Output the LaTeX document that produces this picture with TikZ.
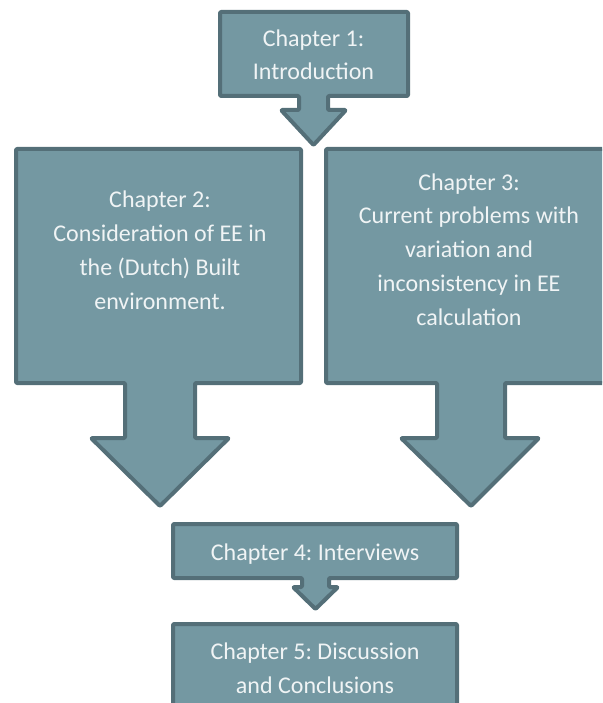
\documentclass[tikz,border=0pt]{standalone}
\usepackage{fontspec}
\setmainfont{Carlito}
\frenchspacing
\definecolor{boxfill}{RGB}{116,152,162}
\definecolor{boxline}{RGB}{84,111,120}
\definecolor{boxtext}{RGB}{240,244,245}
\begin{document}
\begin{tikzpicture}[x=1pt,y=-1pt,
  callout/.style={draw=boxline,fill=boxfill,line width=4pt,line join=round,rounded corners=1pt},
  label/.style={text=boxtext,align=center,anchor=base,inner sep=0pt,
    font=\fontsize{24}{33.7}\selectfont\frenchspacing}]
\useasboundingbox (0,0) rectangle (602,703);
\clip (0,0) rectangle (602,703);
% Chapter 1
\path[callout] (220,12) -- (408,12) -- (408,96) -- (328,96) -- (328,110) -- (346,110)
  -- (313.5,145) -- (281,110) -- (299,110) -- (299,96) -- (220,96) -- cycle;
% Chapter 2
\path[callout] (16,149) -- (301,149) -- (301,383) -- (195,383) -- (195,438) -- (229,438)
  -- (160,506) -- (91,438) -- (125,438) -- (125,383) -- (16,383) -- cycle;
% Chapter 3
\path[callout] (326,149) -- (616,149) -- (616,383) -- (505,383) -- (505,438) -- (539,438)
  -- (471,506) -- (401,438) -- (437,438) -- (437,383) -- (326,383) -- cycle;
% Chapter 4
\path[callout] (173,524) -- (457,524) -- (457,578) -- (329,578) -- (329,587) -- (338,587)
  -- (315.5,609) -- (293,587) -- (302,587) -- (302,578) -- (173,578) -- cycle;
% Chapter 5
\path[callout] (173,624) rectangle (457,730);
\node[label] (c1) at (313.5,80) {Chapter 1:\\Introduction};
\node[label] (c2) at (160,309) {Chapter 2:\\Consideration of EE in\\the (Dutch) Built\\environment.};
\node[label] (c3) at (469,325) {Chapter 3:\\Current problems with\\variation and\\inconsistency in EE\\calculation};
\node[label] (c4) at (315,560) {Chapter 4: Interviews};
\node[label] (c5) at (315,693) {Chapter 5: Discussion\\and Conclusions};
\end{tikzpicture}
\end{document}
